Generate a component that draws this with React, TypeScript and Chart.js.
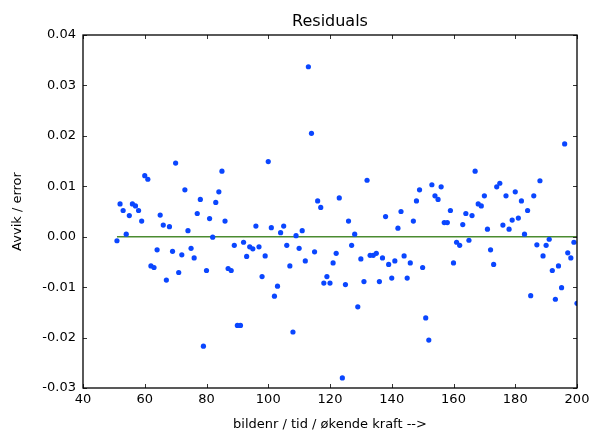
import React, { useEffect, useRef } from 'react';
import { Chart, registerables } from 'chart.js';

Chart.register(...registerables);

// Frame numbers (x) and residuals (y)
const frameNumbers = [
  51, 52, 53, 54, 55, 56, 57, 58, 59, 60,
  61, 62, 63, 64, 65, 66, 67, 68, 69, 70,
  71, 72, 73, 74, 75, 76, 77, 78, 79, 80,
  81, 82, 83, 84, 85, 86, 87, 88, 89, 90,
  91, 92, 93, 94, 95, 96, 97, 98, 99, 100,
  101, 102, 103, 104, 105, 106, 107, 108, 109, 110,
  111, 112, 113, 114, 115, 116, 117, 118, 119, 120,
  121, 122, 123, 124, 125, 126, 127, 128, 129, 130,
  131, 132, 133, 134, 135, 136, 137, 138, 139, 140,
  141, 142, 143, 144, 145, 146, 147, 148, 149, 150,
  151, 152, 153, 154, 155, 156, 157, 158, 159, 160,
  161, 162, 163, 164, 165, 166, 167, 168, 169, 170,
  171, 172, 173, 174, 175, 176, 177, 178, 179, 180,
  181, 182, 183, 184, 185, 186, 187, 188, 189, 190,
  191, 192, 193, 194, 195, 196, 197, 198, 199, 200,
];

const residuals = [
  -0.0008, 0.0065, 0.0052, 0.0005, 0.0042, 0.0065, 0.0061, 0.0052, 0.0031, 0.0121,
  0.0114, -0.0058, -0.0061, -0.0026, 0.0043, 0.0023, -0.0086, 0.0020, -0.0029, 0.0146,
  -0.0071, -0.0036, 0.0093, 0.0012, -0.0023, -0.0042, 0.0046, 0.0074, -0.0217, -0.0067,
  0.0036, -0.0001, 0.0068, 0.0089, 0.0130, 0.0031, -0.0063, -0.0067, -0.0017, -0.0176,
  -0.0176, -0.0011, -0.0039, -0.0020, -0.0024, 0.0021, -0.0020, -0.0079, -0.0038, 0.0149,
  0.0018, -0.0118, -0.0098, 0.0008, 0.0021, -0.0017, -0.0058, -0.0189, 0.0002, -0.0023,
  0.0012, -0.0048, 0.0337, 0.0205, -0.0030, 0.0071, 0.0058, -0.0092, -0.0079, -0.0092,
  -0.0052, -0.0033, 0.0077, -0.0280, -0.0095, 0.0031, -0.0017, 0.0005, -0.0139, -0.0044,
  -0.0089, 0.0112, -0.0037, -0.0037, -0.0033, -0.0089, -0.0042, 0.0040, -0.0055, -0.0082,
  -0.0048, 0.0017, 0.0050, -0.0038, -0.0082, -0.0052, 0.0031, 0.0071, 0.0093, -0.0061,
  -0.0161, -0.0205, 0.0103, 0.0081, 0.0074, 0.0099, 0.0028, 0.0028, 0.0052, -0.0052,
  -0.0011, -0.0017, 0.0024, 0.0046, -0.0007, 0.0042, 0.0130, 0.0065, 0.0061, 0.0081,
  0.0015, -0.0026, -0.0055, 0.0099, 0.0106, 0.0023, 0.0081, 0.0015, 0.0033, 0.0089,
  0.0037, 0.0071, 0.0005, 0.0052, -0.0117, 0.0081, -0.0016, 0.0111, -0.0038, -0.0017,
  -0.0005, -0.0067, -0.0124, -0.0058, -0.0101, 0.0184, -0.0032, -0.0042, -0.0011, -0.0132,
];

const zeroLineX = [51, 200];
const zeroLineY = [0, 0];

const xTicks = [40, 60, 80, 100, 120, 140, 160, 180, 200];
const yTicks = [-0.03, -0.02, -0.01, 0, 0.01, 0.02, 0.03, 0.04];

const FONT = '"DejaVu Sans", sans-serif';
const BLUE = '#0a46ff';
const GREEN = '#4b8b31';

const framePlugin = {
  id: 'mplFrame',
  afterDatasetsDraw(chart: any) {
    const { ctx, chartArea, scales } = chart;
    const { left, right, top, bottom } = chartArea;
    const L = 4;
    ctx.save();
    ctx.strokeStyle = '#333';
    ctx.lineWidth = 1;
    ctx.beginPath();
    scales.x.ticks.forEach((t: any) => {
      const px = Math.round(scales.x.getPixelForValue(t.value)) + 0.5;
      ctx.moveTo(px, bottom);
      ctx.lineTo(px, bottom - L);
      ctx.moveTo(px, top);
      ctx.lineTo(px, top + L);
    });
    scales.y.ticks.forEach((t: any) => {
      const py = Math.round(scales.y.getPixelForValue(t.value)) + 0.5;
      ctx.moveTo(left, py);
      ctx.lineTo(left + L, py);
      ctx.moveTo(right, py);
      ctx.lineTo(right - L, py);
    });
    ctx.stroke();
    ctx.strokeStyle = '#000';
    ctx.lineWidth = 1.3;
    ctx.strokeRect(left, top, right - left, bottom - top);
    ctx.restore();
  },
};

export default function App() {
  const ref = useRef<HTMLCanvasElement>(null);

  useEffect(() => {
    const chart = new Chart(ref.current as HTMLCanvasElement, {
      type: 'scatter',
      data: {
        datasets: [
          {
            label: 'Residuals',
            data: frameNumbers.map((x, i) => ({ x, y: residuals[i] })),
            backgroundColor: BLUE,
            borderColor: BLUE,
            pointRadius: 2.6,
            pointBorderWidth: 0,
            pointHoverRadius: 2.6,
            clip: 0,
            order: 1,
          } as any,
          {
            type: 'line',
            label: 'zero',
            data: zeroLineX.map((x, i) => ({ x, y: zeroLineY[i] })),
            borderColor: GREEN,
            backgroundColor: GREEN,
            borderWidth: 1.5,
            pointRadius: 0,
            showLine: true,
            fill: false,
            clip: 0,
            order: 2,
          } as any,
        ],
      },
      options: {
        responsive: false,
        animation: false,
        devicePixelRatio: 1,
        layout: { padding: { left: 0, right: 18, top: 0, bottom: 0 } },
        plugins: {
          legend: { display: false },
          tooltip: { enabled: false },
          title: {
            display: true,
            text: 'Residuals',
            fullSize: false,
            color: '#000',
            font: { family: FONT, size: 16, weight: 'normal' },
            padding: { top: 12, bottom: 3.8 },
          } as any,
        },
        scales: {
          x: {
            type: 'linear',
            min: 40,
            max: 200,
            grid: { display: false, drawTicks: false },
            border: { display: false },
            afterBuildTicks: (s: any) => {
              s.ticks = xTicks.map((v) => ({ value: v }));
            },
            afterFit: (s: any) => {
              s.height = 45;
            },
            ticks: {
              color: '#000',
              font: { family: FONT, size: 13 },
              padding: 4,
              maxRotation: 0,
              autoSkip: false,
              callback: (v: any) => String(v),
            },
            title: {
              display: true,
              text: 'bildenr / tid / økende kraft -->',
              color: '#000',
              font: { family: FONT, size: 13 },
              padding: { top: 0, bottom: 1 },
            },
          },
          y: {
            type: 'linear',
            min: -0.03,
            max: 0.04,
            grid: { display: false, drawTicks: false },
            border: { display: false },
            afterBuildTicks: (s: any) => {
              s.ticks = yTicks.map((v) => ({ value: v }));
            },
            afterFit: (s: any) => {
              s.width = 83;
            },
            ticks: {
              color: '#000',
              font: { family: FONT, size: 13 },
              padding: 7,
              autoSkip: false,
              callback: (v: any) => (Math.abs(Number(v)) < 1e-9 ? '0.00' : Number(v).toFixed(2)),
            },
            title: {
              display: true,
              text: 'Avvik / error',
              color: '#000',
              font: { family: FONT, size: 13 },
              padding: { top: 10, bottom: 0 },
            },
          },
        },
      },
      plugins: [framePlugin],
    });
    return () => chart.destroy();
  }, []);

  return (
    <div style={{ position: 'fixed', left: 0, top: 0, width: 595, height: 433, background: '#fff' }}>
      <canvas ref={ref} width={595} height={433} style={{ display: 'block', width: 595, height: 433 }} />
    </div>
  );
}
